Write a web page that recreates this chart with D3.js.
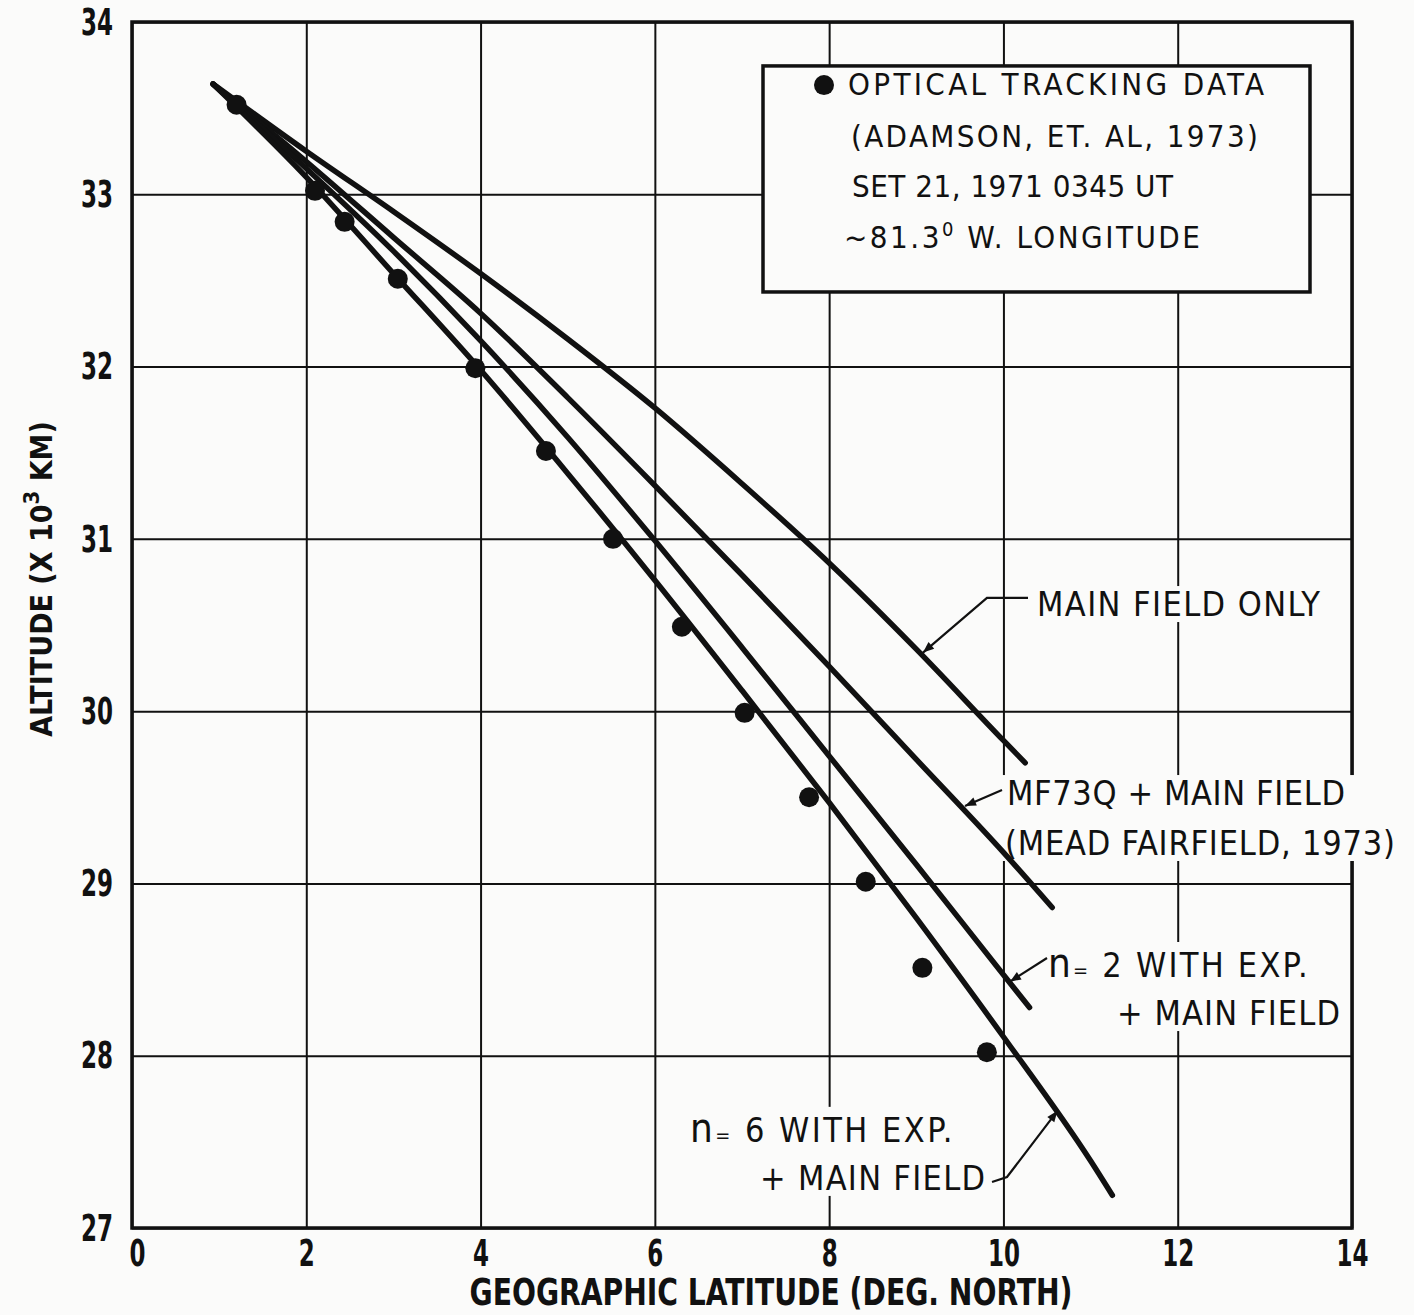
<!DOCTYPE html>
<html>
<head>
<meta charset="utf-8">
<title>Altitude vs Geographic Latitude</title>
<script src="https://d3js.org/d3.v7.min.js"></script>
<style>
  body { margin: 0; background: #fbfbfa; }
  svg text { font-family: "Liberation Sans Narrow", "DejaVu Sans Condensed", "Liberation Sans", sans-serif; fill: #111; }
  .grid line { stroke: #111; stroke-width: 2; }
  .grid path { display: none; }
</style>
</head>
<body>
<svg id="chart" width="1414" height="1315"></svg>
<script>
// tick values
var xTicks = [0, 2, 4, 6, 8, 10, 12, 14];
var yTicks = [27, 28, 29, 30, 31, 32, 33, 34];

// optical tracking data (Adamson et al. 1973)
var obsLat = [1.2, 2.1, 2.44, 3.05, 3.94, 4.75, 5.52, 6.31, 7.03, 7.77, 8.42, 9.07, 9.81];
var obsAlt = [33.52, 33.02, 32.84, 32.51, 31.99, 31.51, 31.0, 30.49, 29.99, 29.5, 29.01, 28.51, 28.02];

// model curves, read at the grid latitudes
var mainLat = [0.93, 2, 3, 4, 5, 6, 7, 8, 9, 10, 10.25];
var mainAlt = [33.64, 33.25, 32.9, 32.54, 32.16, 31.76, 31.32, 30.86, 30.36, 29.83, 29.70];

var mfLat = [0.93, 2, 3, 4, 5, 6, 7, 8, 9, 10, 10.56];
var mfAlt = [33.64, 33.19, 32.75, 32.31, 31.82, 31.31, 30.79, 30.26, 29.72, 29.18, 28.86];

var n2Lat = [0.93, 2, 3, 4, 5, 6, 7, 8, 9, 10, 10.3];
var n2Alt = [33.64, 33.15, 32.67, 32.15, 31.59, 30.99, 30.37, 29.74, 29.11, 28.47, 28.28];

var n6Lat = [0.93, 2, 3, 4, 5, 6, 7, 8, 9, 10, 11, 11.25];
var n6Alt = [33.64, 33.10, 32.54, 31.98, 31.38, 30.76, 30.12, 29.47, 28.80, 28.11, 27.39, 27.19];

var svg = d3.select("#chart");
var pLeft = 132, pRight = 1352, pTop = 22, pBottom = 1228;
var plotW = pRight - pLeft, plotH = pBottom - pTop;

var x = d3.scaleLinear().domain([0, 14]).range([pLeft, pRight]);
var y = d3.scaleLinear().domain([27, 34]).range([pBottom, pTop]);

// grid
svg.append("g").attr("class", "grid")
    .attr("transform", "translate(0," + pBottom + ")")
    .call(d3.axisBottom(x).tickValues(xTicks).tickSize(-plotH).tickFormat(""));
svg.append("g").attr("class", "grid")
    .attr("transform", "translate(" + pLeft + ",0)")
    .call(d3.axisLeft(y).tickValues(yTicks).tickSize(-plotW).tickFormat(""));

// frame
svg.append("rect")
    .attr("x", pLeft).attr("y", pTop).attr("width", plotW).attr("height", plotH)
    .attr("fill", "none").attr("stroke", "#111").attr("stroke-width", 3.5);

// tick labels
var xAx = svg.append("g")
    .attr("transform", "translate(0," + pBottom + ")")
    .call(d3.axisBottom(x).tickValues(xTicks).tickSize(0).tickPadding(11).tickFormat(d3.format("d")));
xAx.select(".domain").remove();
xAx.attr("font-family", null).attr("font-size", null);
xAx.selectAll("text").attr("font-size", 38).attr("font-weight", "bold").attr("fill", "#111")
    .attr("x", function (d) { return d === 0 ? 5 : 0; })
    .attr("textLength", function (d) { return String(d).length * 16; })
    .attr("lengthAdjust", "spacingAndGlyphs");

var yAx = svg.append("g")
    .attr("transform", "translate(" + pLeft + ",0)")
    .call(d3.axisLeft(y).tickValues(yTicks).tickSize(0).tickPadding(19).tickFormat(d3.format("d")));
yAx.select(".domain").remove();
yAx.attr("font-family", null).attr("font-size", null);
yAx.selectAll("text").attr("font-size", 38).attr("font-weight", "bold").attr("fill", "#111")
    .attr("textLength", 32).attr("lengthAdjust", "spacingAndGlyphs");

// axis titles
svg.append("text")
    .attr("x", 771).attr("y", 1305)
    .attr("text-anchor", "middle")
    .attr("font-size", 37).attr("font-weight", "bold")
    .attr("textLength", 603).attr("lengthAdjust", "spacingAndGlyphs")
    .text("GEOGRAPHIC LATITUDE (DEG. NORTH)");

var yt = svg.append("text")
    .attr("transform", "translate(52,579) rotate(-90)")
    .attr("text-anchor", "middle")
    .attr("font-size", 30).attr("font-weight", "bold");
yt.append("tspan").text("ALTITUDE (X 10");
yt.append("tspan").attr("font-size", 22).attr("dy", -13).text("3");
yt.append("tspan").attr("dy", 13).text(" KM)");

// helper: spread letters so a text reaches a target width
function fit(t, target) {
  var n = t.text().length;
  var w = t.node().getComputedTextLength();
  if (n > 1) t.attr("letter-spacing", (target - w) / (n - 1));
}

var noteBg = svg.append("g");
var marks = svg.append("g");
var notes = svg.append("g");

// curve annotations, each line anchored at a [lat, alt] spot with a target width
function note(lines, size) {
  var g = notes.append("g");
  lines.forEach(function (ln) {
    var t = g.append("text")
        .attr("x", x(ln.lat)).attr("y", y(ln.alt))
        .attr("font-size", size);
    ln.parts.forEach(function (p) {
      var s = t.append("tspan").text(p.t);
      if (p.fs) s.attr("font-size", p.fs);
    });
    fit(t, ln.w);
  });
  var b = g.node().getBBox();
  noteBg.append("rect")
      .attr("x", b.x - 4).attr("y", b.y + 2).attr("width", b.width + 8).attr("height", b.height - 4)
      .attr("fill", "#fbfbfa");
}

note([{lat: 10.386, alt: 30.552, w: 283, parts: [{t: "MAIN FIELD ONLY"}]}], 34);
note([{lat: 10.041, alt: 29.455, w: 338, parts: [{t: "MF73Q + MAIN FIELD"}]},
      {lat: 10.018, alt: 29.165, w: 390, parts: [{t: "(MEAD FAIRFIELD, 1973)"}]}], 34);
note([{lat: 10.511, alt: 28.457, w: 262, parts: [{t: "n", fs: 40}, {t: "=", fs: 20}, {t: "  2 WITH EXP."}]},
      {lat: 11.303, alt: 28.178, w: 223, parts: [{t: "+ MAIN FIELD"}]}], 34);
note([{lat: 6.403, alt: 27.50, w: 265, parts: [{t: "n", fs: 40}, {t: "=", fs: 20}, {t: "  6 WITH EXP."}]},
      {lat: 7.207, alt: 27.221, w: 225, parts: [{t: "+ MAIN FIELD"}]}], 34);

// curves
var line = d3.line()
    .x(function (d) { return x(d[0]); })
    .y(function (d) { return y(d[1]); })
    .curve(d3.curveMonotoneX);

[[mainLat, mainAlt], [mfLat, mfAlt], [n2Lat, n2Alt], [n6Lat, n6Alt]].forEach(function (c) {
  marks.append("path")
      .datum(d3.zip(c[0], c[1]))
      .attr("d", line)
      .attr("fill", "none")
      .attr("stroke", "#111")
      .attr("stroke-width", 5.5)
      .attr("stroke-linecap", "round");
});

// tracking dots
marks.selectAll("circle.obs")
    .data(d3.zip(obsLat, obsAlt))
    .enter().append("circle")
    .attr("class", "obs")
    .attr("cx", function (d) { return x(d[0]); })
    .attr("cy", function (d) { return y(d[1]); })
    .attr("r", 10)
    .attr("fill", "#111");

// leader lines with arrowheads
svg.append("defs").append("marker")
    .attr("id", "arr").attr("viewBox", "0 0 10 10")
    .attr("refX", 10).attr("refY", 5)
    .attr("markerWidth", 7).attr("markerHeight", 5)
    .attr("orient", "auto")
    .append("path").attr("d", "M0,1 L10,5 L0,9 Z").attr("fill", "#111");

var leaders = [
  [[10.282, 30.657], [9.811, 30.657], [9.077, 30.34]],
  [[9.984, 29.542], [9.559, 29.45]],
  [[10.5, 28.567], [10.075, 28.43]],
  [[9.869, 27.267], [10.041, 27.296], [10.62, 27.68]]
];
var lin = d3.line().x(function (d) { return x(d[0]); }).y(function (d) { return y(d[1]); });
leaders.forEach(function (p) {
  notes.append("path")
      .attr("d", lin(p))
      .attr("fill", "none").attr("stroke", "#111").attr("stroke-width", 2.2)
      .attr("marker-end", "url(#arr)");
});

// legend box
var lg = svg.append("g");
lg.append("rect")
    .attr("x", x(7.241)).attr("y", y(33.745))
    .attr("width", x(13.518) - x(7.241)).attr("height", y(32.433) - y(33.745))
    .attr("fill", "#fbfbfa").attr("stroke", "#111").attr("stroke-width", 3.5);
lg.append("circle").attr("cx", x(7.941)).attr("cy", y(33.634)).attr("r", 10).attr("fill", "#111");

var legLines = [
  {lat: 8.216, alt: 33.576, w: 416, parts: [{t: "OPTICAL TRACKING DATA"}]},
  {lat: 8.25, alt: 33.274, w: 407, parts: [{t: "(ADAMSON, ET. AL, 1973)"}]},
  {lat: 8.262, alt: 32.984, w: 321, parts: [{t: "SET 21, 1971 0345 UT"}]},
  {lat: 8.17, alt: 32.688, w: 356, parts: [{t: "~81.3"}, {t: "0", sup: true}, {t: " W. LONGITUDE"}]}
];
legLines.forEach(function (ln) {
  var t = lg.append("text")
      .attr("x", x(ln.lat)).attr("y", y(ln.alt))
      .attr("font-size", 31);
  ln.parts.forEach(function (p, i) {
    var s = t.append("tspan").text(p.t);
    if (p.sup) s.attr("font-size", 20).attr("dy", -12);
    else if (i > 0 && ln.parts[i - 1].sup) s.attr("dy", 12);
  });
  fit(t, ln.w);
});
</script>
</body>
</html>
